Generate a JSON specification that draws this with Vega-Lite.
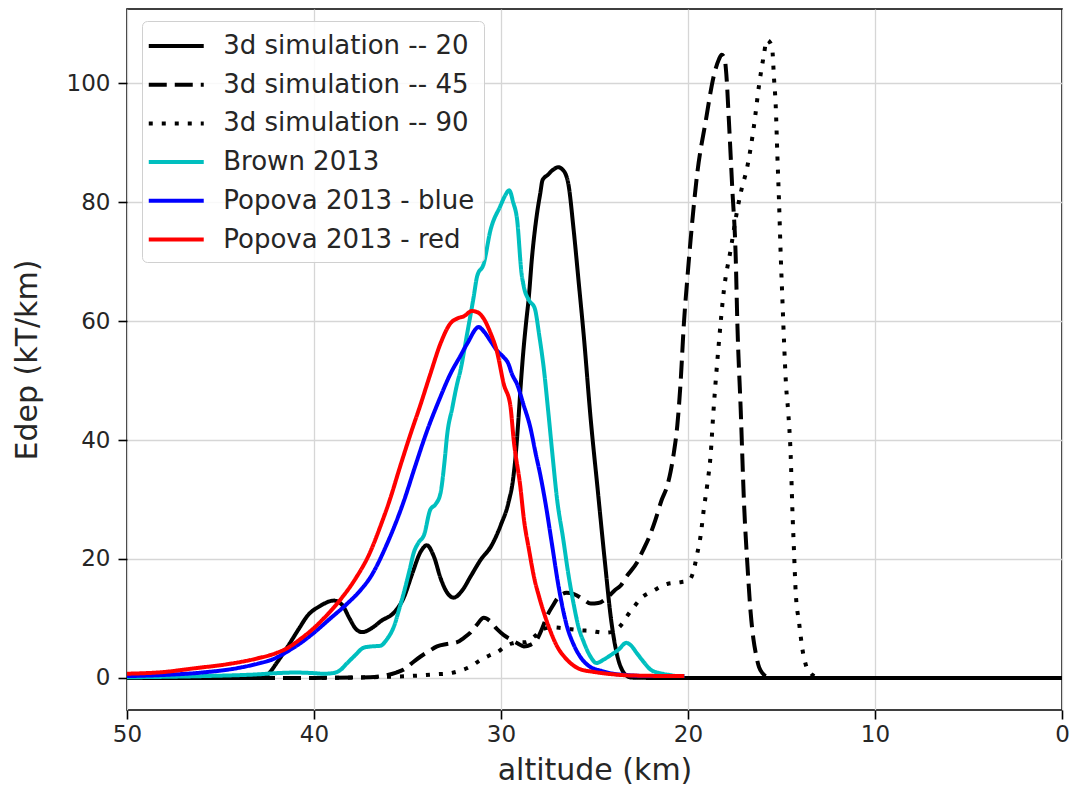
{
  "$schema": "https://vega.github.io/schema/vega-lite/v6.json",
  "width": 935,
  "height": 701,
  "autosize": {"type": "none"},
  "padding": {"left": 127, "top": 9, "right": 10, "bottom": 79},
  "config": {
    "font": "DejaVu Sans",
    "view": {"stroke": "#000000", "strokeWidth": 1.6},
    "axis": {
      "domain": false,
      "grid": true,
      "gridColor": "#d6d6d6",
      "gridWidth": 1.3,
      "ticks": true,
      "tickColor": "#000000",
      "tickSize": 9,
      "tickWidth": 1.6,
      "labelFlush": false,
      "labelFont": "DejaVu Sans",
      "labelFontSize": 23,
      "labelColor": "#262626",
      "labelPadding": 8,
      "titleFont": "DejaVu Sans",
      "titleFontSize": 30,
      "titleFontWeight": "normal",
      "titleColor": "#262626"
    },
    "legend": {
      "title": null,
      "orient": "none",
      "legendX": 15,
      "legendY": 12,
      "symbolType": "M-2,0H2",
      "symbolSize": 756,
      "symbolOffset": 9.25,
      "symbolStrokeWidth": 4,
      "labelFontSize": 26,
      "labelFont": "DejaVu Sans",
      "labelColor": "#262626",
      "labelLimit": 500,
      "labelOffset": 31,
      "rowPadding": 9.7,
      "padding": 9,
      "fillColor": "rgba(255,255,255,0.85)",
      "strokeColor": "#d0d0d0",
      "cornerRadius": 5
    }
  },
  "data": {
    "values": [
      {"s": "3d simulation -- 20", "alt": 50, "e": 0},
      {"s": "3d simulation -- 20", "alt": 44, "e": 0},
      {"s": "3d simulation -- 20", "alt": 42.8, "e": 0},
      {"s": "3d simulation -- 20", "alt": 42.4, "e": 0.8},
      {"s": "3d simulation -- 20", "alt": 42.0, "e": 2.5},
      {"s": "3d simulation -- 20", "alt": 41.4, "e": 5.3},
      {"s": "3d simulation -- 20", "alt": 40.8, "e": 8.3},
      {"s": "3d simulation -- 20", "alt": 40.36, "e": 10.4},
      {"s": "3d simulation -- 20", "alt": 39.67, "e": 12.1},
      {"s": "3d simulation -- 20", "alt": 38.93, "e": 13.0},
      {"s": "3d simulation -- 20", "alt": 38.5, "e": 12.3},
      {"s": "3d simulation -- 20", "alt": 38.1, "e": 10.0},
      {"s": "3d simulation -- 20", "alt": 37.75, "e": 8.2},
      {"s": "3d simulation -- 20", "alt": 37.42, "e": 7.7},
      {"s": "3d simulation -- 20", "alt": 36.9, "e": 8.4},
      {"s": "3d simulation -- 20", "alt": 36.4, "e": 9.6},
      {"s": "3d simulation -- 20", "alt": 35.72, "e": 11.0},
      {"s": "3d simulation -- 20", "alt": 35.2, "e": 13.5},
      {"s": "3d simulation -- 20", "alt": 34.75, "e": 17.5},
      {"s": "3d simulation -- 20", "alt": 34.3, "e": 21.2},
      {"s": "3d simulation -- 20", "alt": 33.96, "e": 22.3},
      {"s": "3d simulation -- 20", "alt": 33.6, "e": 20.5},
      {"s": "3d simulation -- 20", "alt": 33.2, "e": 16.5},
      {"s": "3d simulation -- 20", "alt": 32.85, "e": 14.2},
      {"s": "3d simulation -- 20", "alt": 32.53, "e": 13.5},
      {"s": "3d simulation -- 20", "alt": 32.1, "e": 14.6},
      {"s": "3d simulation -- 20", "alt": 31.6, "e": 17.2},
      {"s": "3d simulation -- 20", "alt": 31.1, "e": 19.8},
      {"s": "3d simulation -- 20", "alt": 30.5, "e": 22.3},
      {"s": "3d simulation -- 20", "alt": 30.0, "e": 25.8},
      {"s": "3d simulation -- 20", "alt": 29.6, "e": 29.5},
      {"s": "3d simulation -- 20", "alt": 29.35, "e": 33.5},
      {"s": "3d simulation -- 20", "alt": 29.2, "e": 38},
      {"s": "3d simulation -- 20", "alt": 29.07, "e": 43.4},
      {"s": "3d simulation -- 20", "alt": 28.95, "e": 49},
      {"s": "3d simulation -- 20", "alt": 28.8, "e": 55.1},
      {"s": "3d simulation -- 20", "alt": 28.65, "e": 60},
      {"s": "3d simulation -- 20", "alt": 28.52, "e": 63.8},
      {"s": "3d simulation -- 20", "alt": 28.34, "e": 70.8},
      {"s": "3d simulation -- 20", "alt": 28.2, "e": 75},
      {"s": "3d simulation -- 20", "alt": 28.06, "e": 78.4},
      {"s": "3d simulation -- 20", "alt": 27.9, "e": 81.5},
      {"s": "3d simulation -- 20", "alt": 27.78, "e": 83.7},
      {"s": "3d simulation -- 20", "alt": 27.5, "e": 84.6},
      {"s": "3d simulation -- 20", "alt": 27.2, "e": 85.5},
      {"s": "3d simulation -- 20", "alt": 26.95, "e": 85.9},
      {"s": "3d simulation -- 20", "alt": 26.68, "e": 85.4},
      {"s": "3d simulation -- 20", "alt": 26.4, "e": 83.1},
      {"s": "3d simulation -- 20", "alt": 26.12, "e": 75.5},
      {"s": "3d simulation -- 20", "alt": 25.85, "e": 66.7},
      {"s": "3d simulation -- 20", "alt": 25.57, "e": 57.4},
      {"s": "3d simulation -- 20", "alt": 25.2, "e": 43.4},
      {"s": "3d simulation -- 20", "alt": 24.83, "e": 31.7},
      {"s": "3d simulation -- 20", "alt": 24.46, "e": 20.0},
      {"s": "3d simulation -- 20", "alt": 24.1, "e": 9.5},
      {"s": "3d simulation -- 20", "alt": 23.9, "e": 5.5},
      {"s": "3d simulation -- 20", "alt": 23.73, "e": 3.1},
      {"s": "3d simulation -- 20", "alt": 23.5, "e": 1.2},
      {"s": "3d simulation -- 20", "alt": 23.3, "e": 0.4},
      {"s": "3d simulation -- 20", "alt": 23.0, "e": 0.05},
      {"s": "3d simulation -- 20", "alt": 22, "e": 0},
      {"s": "3d simulation -- 20", "alt": 20, "e": 0},
      {"s": "3d simulation -- 20", "alt": 10, "e": 0},
      {"s": "3d simulation -- 20", "alt": 0, "e": 0},

      {"s": "3d simulation -- 45", "alt": 50, "e": 0},
      {"s": "3d simulation -- 45", "alt": 45, "e": 0},
      {"s": "3d simulation -- 45", "alt": 40, "e": 0},
      {"s": "3d simulation -- 45", "alt": 37, "e": 0.1},
      {"s": "3d simulation -- 45", "alt": 36.2, "e": 0.4},
      {"s": "3d simulation -- 45", "alt": 35.6, "e": 0.9},
      {"s": "3d simulation -- 45", "alt": 35.2, "e": 1.4},
      {"s": "3d simulation -- 45", "alt": 34.8, "e": 2.4},
      {"s": "3d simulation -- 45", "alt": 34.3, "e": 3.6},
      {"s": "3d simulation -- 45", "alt": 33.9, "e": 4.4},
      {"s": "3d simulation -- 45", "alt": 33.42, "e": 5.3},
      {"s": "3d simulation -- 45", "alt": 32.9, "e": 5.7},
      {"s": "3d simulation -- 45", "alt": 32.35, "e": 6.0},
      {"s": "3d simulation -- 45", "alt": 32.0, "e": 6.7},
      {"s": "3d simulation -- 45", "alt": 31.64, "e": 7.6},
      {"s": "3d simulation -- 45", "alt": 31.3, "e": 8.9},
      {"s": "3d simulation -- 45", "alt": 30.92, "e": 10.1},
      {"s": "3d simulation -- 45", "alt": 30.6, "e": 9.6},
      {"s": "3d simulation -- 45", "alt": 30.21, "e": 8.2},
      {"s": "3d simulation -- 45", "alt": 29.85, "e": 7.2},
      {"s": "3d simulation -- 45", "alt": 29.5, "e": 6.5},
      {"s": "3d simulation -- 45", "alt": 29.1, "e": 5.8},
      {"s": "3d simulation -- 45", "alt": 28.78, "e": 5.3},
      {"s": "3d simulation -- 45", "alt": 28.4, "e": 5.6},
      {"s": "3d simulation -- 45", "alt": 28.07, "e": 6.5},
      {"s": "3d simulation -- 45", "alt": 27.8, "e": 8.3},
      {"s": "3d simulation -- 45", "alt": 27.54, "e": 10.4},
      {"s": "3d simulation -- 45", "alt": 27.2, "e": 12.3},
      {"s": "3d simulation -- 45", "alt": 27.0, "e": 13.3},
      {"s": "3d simulation -- 45", "alt": 26.5, "e": 14.3},
      {"s": "3d simulation -- 45", "alt": 26.1, "e": 14.1},
      {"s": "3d simulation -- 45", "alt": 25.6, "e": 13.2},
      {"s": "3d simulation -- 45", "alt": 25.2, "e": 12.5},
      {"s": "3d simulation -- 45", "alt": 24.8, "e": 12.6},
      {"s": "3d simulation -- 45", "alt": 24.32, "e": 13.5},
      {"s": "3d simulation -- 45", "alt": 23.9, "e": 14.8},
      {"s": "3d simulation -- 45", "alt": 23.61, "e": 15.5},
      {"s": "3d simulation -- 45", "alt": 23.3, "e": 17.0},
      {"s": "3d simulation -- 45", "alt": 22.71, "e": 19.5},
      {"s": "3d simulation -- 45", "alt": 22.4, "e": 21.5},
      {"s": "3d simulation -- 45", "alt": 22.1, "e": 23.5},
      {"s": "3d simulation -- 45", "alt": 21.75, "e": 26.5},
      {"s": "3d simulation -- 45", "alt": 21.4, "e": 30.0},
      {"s": "3d simulation -- 45", "alt": 21.11, "e": 32.3},
      {"s": "3d simulation -- 45", "alt": 20.93, "e": 34.7},
      {"s": "3d simulation -- 45", "alt": 20.75, "e": 38.0},
      {"s": "3d simulation -- 45", "alt": 20.57, "e": 42.5},
      {"s": "3d simulation -- 45", "alt": 20.39, "e": 50.0},
      {"s": "3d simulation -- 45", "alt": 20.22, "e": 59.6},
      {"s": "3d simulation -- 45", "alt": 20.04, "e": 67.0},
      {"s": "3d simulation -- 45", "alt": 19.86, "e": 73.7},
      {"s": "3d simulation -- 45", "alt": 19.5, "e": 85.0},
      {"s": "3d simulation -- 45", "alt": 19.06, "e": 93.5},
      {"s": "3d simulation -- 45", "alt": 18.61, "e": 101.4},
      {"s": "3d simulation -- 45", "alt": 18.35, "e": 104.0},
      {"s": "3d simulation -- 45", "alt": 18.2, "e": 104.8},
      {"s": "3d simulation -- 45", "alt": 18.05, "e": 104.3},
      {"s": "3d simulation -- 45", "alt": 17.95, "e": 101.5},
      {"s": "3d simulation -- 45", "alt": 17.81, "e": 93.5},
      {"s": "3d simulation -- 45", "alt": 17.63, "e": 82.2},
      {"s": "3d simulation -- 45", "alt": 17.45, "e": 70.9},
      {"s": "3d simulation -- 45", "alt": 17.36, "e": 59.6},
      {"s": "3d simulation -- 45", "alt": 17.18, "e": 45.0},
      {"s": "3d simulation -- 45", "alt": 17.0, "e": 29.1},
      {"s": "3d simulation -- 45", "alt": 16.82, "e": 18.9},
      {"s": "3d simulation -- 45", "alt": 16.65, "e": 11.0},
      {"s": "3d simulation -- 45", "alt": 16.5, "e": 6.5},
      {"s": "3d simulation -- 45", "alt": 16.38, "e": 4.2},
      {"s": "3d simulation -- 45", "alt": 16.2, "e": 1.8},
      {"s": "3d simulation -- 45", "alt": 16.02, "e": 0.8},
      {"s": "3d simulation -- 45", "alt": 15.8, "e": 0.2},
      {"s": "3d simulation -- 45", "alt": 15.5, "e": 0},
      {"s": "3d simulation -- 45", "alt": 10, "e": 0},
      {"s": "3d simulation -- 45", "alt": 0, "e": 0},

      {"s": "3d simulation -- 90", "alt": 50, "e": 0},
      {"s": "3d simulation -- 90", "alt": 40, "e": 0},
      {"s": "3d simulation -- 90", "alt": 35, "e": 0.3},
      {"s": "3d simulation -- 90", "alt": 33.5, "e": 0.6},
      {"s": "3d simulation -- 90", "alt": 32.7, "e": 0.8},
      {"s": "3d simulation -- 90", "alt": 32.2, "e": 1.2},
      {"s": "3d simulation -- 90", "alt": 31.64, "e": 1.9},
      {"s": "3d simulation -- 90", "alt": 31.1, "e": 3.0},
      {"s": "3d simulation -- 90", "alt": 30.6, "e": 3.8},
      {"s": "3d simulation -- 90", "alt": 30.21, "e": 4.3},
      {"s": "3d simulation -- 90", "alt": 29.81, "e": 5.2},
      {"s": "3d simulation -- 90", "alt": 29.4, "e": 5.8},
      {"s": "3d simulation -- 90", "alt": 29.0, "e": 6.0},
      {"s": "3d simulation -- 90", "alt": 28.7, "e": 6.0},
      {"s": "3d simulation -- 90", "alt": 28.2, "e": 7.0},
      {"s": "3d simulation -- 90", "alt": 27.78, "e": 8.2},
      {"s": "3d simulation -- 90", "alt": 27.2, "e": 8.5},
      {"s": "3d simulation -- 90", "alt": 26.8, "e": 8.4},
      {"s": "3d simulation -- 90", "alt": 26.29, "e": 8.2},
      {"s": "3d simulation -- 90", "alt": 25.7, "e": 8.0},
      {"s": "3d simulation -- 90", "alt": 25.22, "e": 7.9},
      {"s": "3d simulation -- 90", "alt": 24.5, "e": 7.6},
      {"s": "3d simulation -- 90", "alt": 24.1, "e": 7.7},
      {"s": "3d simulation -- 90", "alt": 23.8, "e": 8.2},
      {"s": "3d simulation -- 90", "alt": 23.5, "e": 9.2},
      {"s": "3d simulation -- 90", "alt": 23.26, "e": 10.4},
      {"s": "3d simulation -- 90", "alt": 22.9, "e": 11.9},
      {"s": "3d simulation -- 90", "alt": 22.54, "e": 13.3},
      {"s": "3d simulation -- 90", "alt": 21.83, "e": 14.7},
      {"s": "3d simulation -- 90", "alt": 21.11, "e": 15.8},
      {"s": "3d simulation -- 90", "alt": 20.39, "e": 16.1},
      {"s": "3d simulation -- 90", "alt": 19.95, "e": 16.4},
      {"s": "3d simulation -- 90", "alt": 19.75, "e": 17.5},
      {"s": "3d simulation -- 90", "alt": 19.5, "e": 21.0},
      {"s": "3d simulation -- 90", "alt": 19.33, "e": 23.8},
      {"s": "3d simulation -- 90", "alt": 19.15, "e": 28.5},
      {"s": "3d simulation -- 90", "alt": 18.97, "e": 32.5},
      {"s": "3d simulation -- 90", "alt": 18.79, "e": 37.5},
      {"s": "3d simulation -- 90", "alt": 18.65, "e": 44.3},
      {"s": "3d simulation -- 90", "alt": 18.34, "e": 56.7},
      {"s": "3d simulation -- 90", "alt": 18.08, "e": 65.2},
      {"s": "3d simulation -- 90", "alt": 17.72, "e": 72.0},
      {"s": "3d simulation -- 90", "alt": 17.36, "e": 78.8},
      {"s": "3d simulation -- 90", "alt": 17.18, "e": 81.6},
      {"s": "3d simulation -- 90", "alt": 16.82, "e": 86.1},
      {"s": "3d simulation -- 90", "alt": 16.47, "e": 92.9},
      {"s": "3d simulation -- 90", "alt": 16.2, "e": 99.7},
      {"s": "3d simulation -- 90", "alt": 15.94, "e": 104.8},
      {"s": "3d simulation -- 90", "alt": 15.79, "e": 107.3},
      {"s": "3d simulation -- 90", "alt": 15.6, "e": 106.8},
      {"s": "3d simulation -- 90", "alt": 15.49, "e": 105.6},
      {"s": "3d simulation -- 90", "alt": 15.4, "e": 100.8},
      {"s": "3d simulation -- 90", "alt": 15.31, "e": 96.3},
      {"s": "3d simulation -- 90", "alt": 15.22, "e": 87.8},
      {"s": "3d simulation -- 90", "alt": 15.13, "e": 79.9},
      {"s": "3d simulation -- 90", "alt": 15.04, "e": 70.9},
      {"s": "3d simulation -- 90", "alt": 14.95, "e": 63.5},
      {"s": "3d simulation -- 90", "alt": 14.86, "e": 56.2},
      {"s": "3d simulation -- 90", "alt": 14.76, "e": 49.4},
      {"s": "3d simulation -- 90", "alt": 14.64, "e": 44.7},
      {"s": "3d simulation -- 90", "alt": 14.51, "e": 37.5},
      {"s": "3d simulation -- 90", "alt": 14.42, "e": 28.5},
      {"s": "3d simulation -- 90", "alt": 14.33, "e": 21.2},
      {"s": "3d simulation -- 90", "alt": 14.24, "e": 14.4},
      {"s": "3d simulation -- 90", "alt": 14.06, "e": 9.3},
      {"s": "3d simulation -- 90", "alt": 13.88, "e": 4.8},
      {"s": "3d simulation -- 90", "alt": 13.7, "e": 2.2},
      {"s": "3d simulation -- 90", "alt": 13.44, "e": 0.8},
      {"s": "3d simulation -- 90", "alt": 13.2, "e": 0.2},
      {"s": "3d simulation -- 90", "alt": 13.0, "e": 0},
      {"s": "3d simulation -- 90", "alt": 10, "e": 0},
      {"s": "3d simulation -- 90", "alt": 0, "e": 0},

      {"s": "Brown 2013", "alt": 50, "e": 0.1},
      {"s": "Brown 2013", "alt": 46, "e": 0.3},
      {"s": "Brown 2013", "alt": 43, "e": 0.6},
      {"s": "Brown 2013", "alt": 42, "e": 0.8},
      {"s": "Brown 2013", "alt": 41, "e": 0.9},
      {"s": "Brown 2013", "alt": 40, "e": 0.8},
      {"s": "Brown 2013", "alt": 39.5, "e": 0.7},
      {"s": "Brown 2013", "alt": 39.0, "e": 0.8},
      {"s": "Brown 2013", "alt": 38.6, "e": 1.3},
      {"s": "Brown 2013", "alt": 38.22, "e": 2.5},
      {"s": "Brown 2013", "alt": 37.8, "e": 3.8},
      {"s": "Brown 2013", "alt": 37.33, "e": 5.1},
      {"s": "Brown 2013", "alt": 36.9, "e": 5.3},
      {"s": "Brown 2013", "alt": 36.46, "e": 5.4},
      {"s": "Brown 2013", "alt": 36.1, "e": 6.5},
      {"s": "Brown 2013", "alt": 35.72, "e": 8.7},
      {"s": "Brown 2013", "alt": 35.45, "e": 11.5},
      {"s": "Brown 2013", "alt": 35.19, "e": 14.4},
      {"s": "Brown 2013", "alt": 34.9, "e": 18.0},
      {"s": "Brown 2013", "alt": 34.65, "e": 21.2},
      {"s": "Brown 2013", "alt": 34.4, "e": 22.8},
      {"s": "Brown 2013", "alt": 34.12, "e": 24.0},
      {"s": "Brown 2013", "alt": 33.78, "e": 28.3},
      {"s": "Brown 2013", "alt": 33.5, "e": 29.2},
      {"s": "Brown 2013", "alt": 33.24, "e": 31.0},
      {"s": "Brown 2013", "alt": 33.0, "e": 37.0},
      {"s": "Brown 2013", "alt": 32.89, "e": 40.6},
      {"s": "Brown 2013", "alt": 32.6, "e": 45.5},
      {"s": "Brown 2013", "alt": 32.35, "e": 49.4},
      {"s": "Brown 2013", "alt": 32.17, "e": 51.7},
      {"s": "Brown 2013", "alt": 31.81, "e": 57.9},
      {"s": "Brown 2013", "alt": 31.46, "e": 64.1},
      {"s": "Brown 2013", "alt": 31.28, "e": 67.5},
      {"s": "Brown 2013", "alt": 30.92, "e": 69.7},
      {"s": "Brown 2013", "alt": 30.57, "e": 75.2},
      {"s": "Brown 2013", "alt": 30.03, "e": 79.4},
      {"s": "Brown 2013", "alt": 29.8, "e": 81.0},
      {"s": "Brown 2013", "alt": 29.56, "e": 82.0},
      {"s": "Brown 2013", "alt": 29.35, "e": 80.0},
      {"s": "Brown 2013", "alt": 29.14, "e": 77.1},
      {"s": "Brown 2013", "alt": 28.9, "e": 68.0},
      {"s": "Brown 2013", "alt": 28.78, "e": 65.8},
      {"s": "Brown 2013", "alt": 28.5, "e": 63.5},
      {"s": "Brown 2013", "alt": 28.2, "e": 62.2},
      {"s": "Brown 2013", "alt": 27.95, "e": 57.5},
      {"s": "Brown 2013", "alt": 27.71, "e": 52.0},
      {"s": "Brown 2013", "alt": 27.48, "e": 45.0},
      {"s": "Brown 2013", "alt": 27.25, "e": 37.6},
      {"s": "Brown 2013", "alt": 27.0, "e": 30.0},
      {"s": "Brown 2013", "alt": 26.68, "e": 23.5},
      {"s": "Brown 2013", "alt": 26.4, "e": 17.5},
      {"s": "Brown 2013", "alt": 26.12, "e": 12.5},
      {"s": "Brown 2013", "alt": 25.85, "e": 8.5},
      {"s": "Brown 2013", "alt": 25.57, "e": 6.0},
      {"s": "Brown 2013", "alt": 25.2, "e": 3.5},
      {"s": "Brown 2013", "alt": 24.9, "e": 2.5},
      {"s": "Brown 2013", "alt": 24.5, "e": 3.1},
      {"s": "Brown 2013", "alt": 24.1, "e": 3.9},
      {"s": "Brown 2013", "alt": 23.7, "e": 4.8},
      {"s": "Brown 2013", "alt": 23.3, "e": 5.9},
      {"s": "Brown 2013", "alt": 23.1, "e": 5.6},
      {"s": "Brown 2013", "alt": 22.7, "e": 4.0},
      {"s": "Brown 2013", "alt": 22.35, "e": 2.6},
      {"s": "Brown 2013", "alt": 22.0, "e": 1.4},
      {"s": "Brown 2013", "alt": 21.5, "e": 0.8},
      {"s": "Brown 2013", "alt": 21.0, "e": 0.5},
      {"s": "Brown 2013", "alt": 20.5, "e": 0.3},
      {"s": "Brown 2013", "alt": 20.2, "e": 0.3},

      {"s": "Popova 2013 - blue", "alt": 50, "e": 0.3},
      {"s": "Popova 2013 - blue", "alt": 48, "e": 0.5},
      {"s": "Popova 2013 - blue", "alt": 46, "e": 0.9},
      {"s": "Popova 2013 - blue", "alt": 44, "e": 1.7},
      {"s": "Popova 2013 - blue", "alt": 43, "e": 2.4},
      {"s": "Popova 2013 - blue", "alt": 42.15, "e": 3.2},
      {"s": "Popova 2013 - blue", "alt": 41.5, "e": 4.3},
      {"s": "Popova 2013 - blue", "alt": 40.7, "e": 5.9},
      {"s": "Popova 2013 - blue", "alt": 40.0, "e": 7.6},
      {"s": "Popova 2013 - blue", "alt": 39.2, "e": 9.8},
      {"s": "Popova 2013 - blue", "alt": 38.22, "e": 12.5},
      {"s": "Popova 2013 - blue", "alt": 37.5, "e": 14.8},
      {"s": "Popova 2013 - blue", "alt": 36.99, "e": 16.9},
      {"s": "Popova 2013 - blue", "alt": 36.1, "e": 22.5},
      {"s": "Popova 2013 - blue", "alt": 35.21, "e": 29.6},
      {"s": "Popova 2013 - blue", "alt": 34.6, "e": 35.5},
      {"s": "Popova 2013 - blue", "alt": 33.96, "e": 41.5},
      {"s": "Popova 2013 - blue", "alt": 33.3, "e": 46.8},
      {"s": "Popova 2013 - blue", "alt": 32.71, "e": 51.1},
      {"s": "Popova 2013 - blue", "alt": 32.2, "e": 54.0},
      {"s": "Popova 2013 - blue", "alt": 31.81, "e": 56.2},
      {"s": "Popova 2013 - blue", "alt": 31.19, "e": 59.0},
      {"s": "Popova 2013 - blue", "alt": 30.9, "e": 58.2},
      {"s": "Popova 2013 - blue", "alt": 30.57, "e": 56.7},
      {"s": "Popova 2013 - blue", "alt": 30.2, "e": 55.0},
      {"s": "Popova 2013 - blue", "alt": 29.85, "e": 53.9},
      {"s": "Popova 2013 - blue", "alt": 29.63, "e": 53.0},
      {"s": "Popova 2013 - blue", "alt": 29.4, "e": 51.0},
      {"s": "Popova 2013 - blue", "alt": 29.14, "e": 49.4},
      {"s": "Popova 2013 - blue", "alt": 28.8, "e": 46.0},
      {"s": "Popova 2013 - blue", "alt": 28.43, "e": 42.1},
      {"s": "Popova 2013 - blue", "alt": 28.15, "e": 37.8},
      {"s": "Popova 2013 - blue", "alt": 27.89, "e": 34.0},
      {"s": "Popova 2013 - blue", "alt": 27.6, "e": 29.0},
      {"s": "Popova 2013 - blue", "alt": 27.3, "e": 23.0},
      {"s": "Popova 2013 - blue", "alt": 26.9, "e": 15.0},
      {"s": "Popova 2013 - blue", "alt": 26.5, "e": 9.0},
      {"s": "Popova 2013 - blue", "alt": 26.1, "e": 5.5},
      {"s": "Popova 2013 - blue", "alt": 25.75, "e": 3.5},
      {"s": "Popova 2013 - blue", "alt": 25.3, "e": 2.0},
      {"s": "Popova 2013 - blue", "alt": 24.65, "e": 1.2},
      {"s": "Popova 2013 - blue", "alt": 24.0, "e": 0.7},
      {"s": "Popova 2013 - blue", "alt": 23.36, "e": 0.5},
      {"s": "Popova 2013 - blue", "alt": 22, "e": 0.3},
      {"s": "Popova 2013 - blue", "alt": 20.2, "e": 0.3},

      {"s": "Popova 2013 - red", "alt": 50, "e": 0.7},
      {"s": "Popova 2013 - red", "alt": 48, "e": 1.0},
      {"s": "Popova 2013 - red", "alt": 46.43, "e": 1.6},
      {"s": "Popova 2013 - red", "alt": 44.65, "e": 2.3},
      {"s": "Popova 2013 - red", "alt": 43, "e": 3.3},
      {"s": "Popova 2013 - red", "alt": 42, "e": 4.2},
      {"s": "Popova 2013 - red", "alt": 41.43, "e": 5.0},
      {"s": "Popova 2013 - red", "alt": 40.7, "e": 6.6},
      {"s": "Popova 2013 - red", "alt": 40.0, "e": 8.4},
      {"s": "Popova 2013 - red", "alt": 39.3, "e": 10.6},
      {"s": "Popova 2013 - red", "alt": 38.58, "e": 13.2},
      {"s": "Popova 2013 - red", "alt": 37.8, "e": 16.6},
      {"s": "Popova 2013 - red", "alt": 36.99, "e": 21.2},
      {"s": "Popova 2013 - red", "alt": 36.45, "e": 25.5},
      {"s": "Popova 2013 - red", "alt": 35.92, "e": 30.2},
      {"s": "Popova 2013 - red", "alt": 35.4, "e": 35.5},
      {"s": "Popova 2013 - red", "alt": 34.85, "e": 40.9},
      {"s": "Popova 2013 - red", "alt": 34.3, "e": 46.0},
      {"s": "Popova 2013 - red", "alt": 33.78, "e": 51.1},
      {"s": "Popova 2013 - red", "alt": 33.24, "e": 56.2},
      {"s": "Popova 2013 - red", "alt": 32.71, "e": 59.6},
      {"s": "Popova 2013 - red", "alt": 32.3, "e": 60.5},
      {"s": "Popova 2013 - red", "alt": 32.0, "e": 60.8},
      {"s": "Popova 2013 - red", "alt": 31.55, "e": 61.7},
      {"s": "Popova 2013 - red", "alt": 31.2, "e": 61.4},
      {"s": "Popova 2013 - red", "alt": 30.92, "e": 60.4},
      {"s": "Popova 2013 - red", "alt": 30.6, "e": 58.3},
      {"s": "Popova 2013 - red", "alt": 30.21, "e": 54.8},
      {"s": "Popova 2013 - red", "alt": 29.85, "e": 49.4},
      {"s": "Popova 2013 - red", "alt": 29.5, "e": 45.8},
      {"s": "Popova 2013 - red", "alt": 29.32, "e": 40.0},
      {"s": "Popova 2013 - red", "alt": 28.96, "e": 32.0},
      {"s": "Popova 2013 - red", "alt": 28.78, "e": 26.8},
      {"s": "Popova 2013 - red", "alt": 28.5, "e": 21.5},
      {"s": "Popova 2013 - red", "alt": 28.25, "e": 17.2},
      {"s": "Popova 2013 - red", "alt": 27.95, "e": 13.5},
      {"s": "Popova 2013 - red", "alt": 27.71, "e": 11.0},
      {"s": "Popova 2013 - red", "alt": 27.35, "e": 7.8},
      {"s": "Popova 2013 - red", "alt": 27.0, "e": 5.3},
      {"s": "Popova 2013 - red", "alt": 26.6, "e": 3.5},
      {"s": "Popova 2013 - red", "alt": 26.29, "e": 2.5},
      {"s": "Popova 2013 - red", "alt": 25.8, "e": 1.5},
      {"s": "Popova 2013 - red", "alt": 25.02, "e": 1.0},
      {"s": "Popova 2013 - red", "alt": 24, "e": 0.6},
      {"s": "Popova 2013 - red", "alt": 23, "e": 0.4},
      {"s": "Popova 2013 - red", "alt": 20.2, "e": 0.3}
    ]
  },
  "mark": {"type": "line", "strokeWidth": 4, "interpolate": "monotone", "clip": true},
  "encoding": {
    "x": {
      "field": "alt",
      "type": "quantitative",
      "scale": {"domain": [0, 50], "reverse": true, "nice": false, "zero": false},
      "axis": {"title": "altitude (km)", "values": [50, 40, 30, 20, 10, 0], "labelPadding": 4, "titlePadding": 9}
    },
    "y": {
      "field": "e",
      "type": "quantitative",
      "scale": {"domain": [-5.4, 112.5], "nice": false, "zero": false},
      "axis": {"title": "Edep (kT/km)", "values": [0, 20, 40, 60, 80, 100], "titlePadding": 24}
    },
    "color": {
      "field": "s",
      "type": "nominal",
      "scale": {
        "domain": ["3d simulation -- 20", "3d simulation -- 45", "3d simulation -- 90", "Brown 2013", "Popova 2013 - blue", "Popova 2013 - red"],
        "range": ["#000000", "#000000", "#000000", "#00bfbf", "#0000ff", "#ff0000"]
      },
      "legend": {"title": null}
    },
    "strokeDash": {
      "field": "s",
      "type": "nominal",
      "scale": {
        "domain": ["3d simulation -- 20", "3d simulation -- 45", "3d simulation -- 90", "Brown 2013", "Popova 2013 - blue", "Popova 2013 - red"],
        "range": [[1, 0], [18, 8], [4, 9], [1, 0], [1, 0], [1, 0]]
      },
      "legend": {"title": null}
    }
  }
}
